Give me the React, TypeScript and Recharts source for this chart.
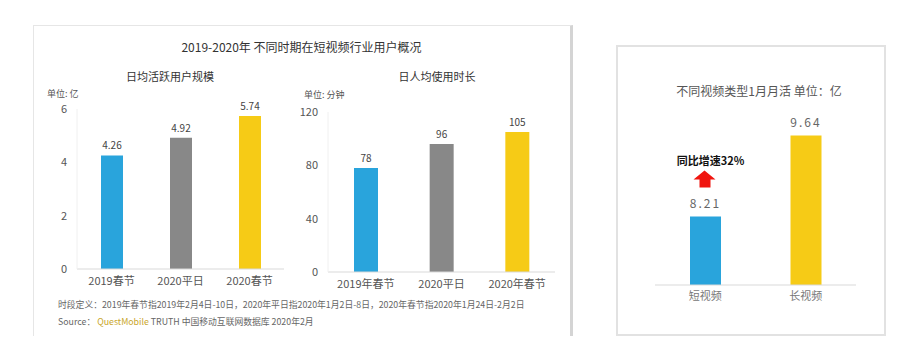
import { BarChart, Bar, XAxis, YAxis, Cell, LabelList } from "recharts"

const FONT = '"Noto Sans CJK SC", "Noto Sans", sans-serif'

const dauCategories = ["2019春节", "2020平日", "2020春节"]
const dauValues = [4.26, 4.92, 5.74]

const timeCategories = ["2019年春节", "2020平日", "2020年春节"]
const timeValues = [78, 96, 105]

const mauCategories = ["短视频", "长视频"]
const mauValues = [8.21, 9.64]

const periodColors = ["#29A4DC", "#888888", "#F6CB16"]
const mauColors = ["#29A4DC", "#F6CB16"]

const dauData = dauCategories.map((name, i) => ({ name, value: dauValues[i] }))
const timeData = timeCategories.map((name, i) => ({ name, value: timeValues[i] }))
const mauData = mauCategories.map((name, i) => ({ name, value: mauValues[i] }))

const tickStyle = { fontSize: 11, fill: "#555", fontFamily: FONT }

// arrow + growth note above the short-video bar
const GrowthNote = (props: any) => {
  const { x, y, width, index } = props
  if (index !== 0) return null
  const cx = x + width / 2
  return (
    <g>
      <text x={cx + 5} y={y - 56} textAnchor="middle" dominantBaseline="central"
        fontSize={11} fontWeight="bold" fill="#111" fontFamily={FONT}>
        同比增速32%
      </text>
      <polygon
        points={`${cx - 1},${y - 46} ${cx - 12},${y - 37} ${cx - 6},${y - 37} ${cx - 6},${y - 29} ${cx + 5},${y - 29} ${cx + 5},${y - 37} ${cx + 10},${y - 37}`}
        fill="#F0150F"
      />
    </g>
  )
}

const abs = (left: number, top: number, extra: any = {}) => ({
  position: "absolute" as const, left, top, ...extra,
})

export default function App() {
  return (
    <div style={{ position: "absolute", left: 0, top: 0, width: 903, height: 356, background: "#fff", fontFamily: FONT, overflow: "hidden" }}>
      {/* left panel frame */}
      <div style={abs(33, 25, { width: 536, height: 310, borderLeft: "1px solid #e6e6e6", borderTop: "1px solid #e6e6e6", borderRight: "3px solid #d4d4d4" })} />
      {/* right panel frame */}
      <div style={abs(616, 45, { width: 266, height: 287, border: "2px solid #e2e2e2" })} />

      <div style={abs(33, 38, { width: 537, textAlign: "center", fontSize: 12, color: "#333" })}>
        2019-2020年 不同时期在短视频行业用户概况
      </div>

      <div style={abs(100, 68, { width: 140, textAlign: "center", fontSize: 11, color: "#333" })}>日均活跃用户规模</div>
      <div style={abs(47, 87, { fontSize: 9, color: "#555" })}>单位: 亿</div>

      <div style={abs(367, 68, { width: 140, textAlign: "center", fontSize: 11, color: "#333" })}>日人均使用时长</div>
      <div style={abs(304, 88, { fontSize: 9, color: "#555" })}>单位: 分钟</div>

      <div style={abs(30, 95)}>
        <BarChart width={270} height={200} data={dauData} margin={{ top: 14, right: 16, bottom: 0, left: 0 }}>
          <XAxis dataKey="name" tickLine={false} height={26} axisLine={{ stroke: "#d9d9d9" }} tick={tickStyle} />
          <YAxis width={47} domain={[0, 6]} ticks={[0, 2, 4, 6]} tickLine={false} tickMargin={4}
            axisLine={{ stroke: "#f0f0f0" }} tick={tickStyle} />
          <Bar dataKey="value" barSize={22} isAnimationActive={false}>
            {dauData.map((d, i) => <Cell key={d.name} fill={periodColors[i]} />)}
            <LabelList dataKey="value" position="top" offset={6} style={{ fontSize: 10, fill: "#444", fontFamily: FONT }} />
          </Bar>
        </BarChart>
      </div>

      <div style={abs(280, 95)}>
        <BarChart width={290} height={205} data={timeData} margin={{ top: 17, right: 15, bottom: 0, left: 0 }}>
          <XAxis dataKey="name" tickLine={false} height={28} axisLine={{ stroke: "#d9d9d9" }} tick={tickStyle} />
          <YAxis width={48} domain={[0, 120]} ticks={[0, 40, 80, 120]} tickLine={false} tickMargin={4}
            axisLine={{ stroke: "#f0f0f0" }} tick={tickStyle} />
          <Bar dataKey="value" barSize={24} isAnimationActive={false}>
            {timeData.map((d, i) => <Cell key={d.name} fill={periodColors[i]} />)}
            <LabelList dataKey="value" position="top" offset={6} style={{ fontSize: 10, fill: "#444", fontFamily: FONT }} />
          </Bar>
        </BarChart>
      </div>

      <div style={abs(58, 298, { fontSize: 8.8, color: "#666", whiteSpace: "nowrap" })}>
        时段定义：2019年春节指2019年2月4日-10日，2020年平日指2020年1月2日-8日，2020年春节指2020年1月24日-2月2日
      </div>
      <div style={abs(58, 315, { fontSize: 8.8, color: "#666", whiteSpace: "nowrap" })}>
        Source： <span style={{ color: "#C9A62C" }}>QuestMobile</span> TRUTH 中国移动互联网数据库 2020年2月
      </div>

      <div style={abs(626, 82, { width: 266, textAlign: "center", fontSize: 12, color: "#555" })}>
        不同视频类型1月月活 单位：亿
      </div>

      <div style={abs(640, 100)}>
        <BarChart width={230} height={215} data={mauData} margin={{ top: 15, right: 14, bottom: 0, left: 15 }}>
          <XAxis dataKey="name" tickLine={false} height={30} tickSize={4} tickMargin={3} axisLine={{ stroke: "#d9d9d9" }}
            tick={{ fontSize: 11, fill: "#777", fontFamily: FONT }} />
          <YAxis hide domain={[7, 10]} allowDataOverflow />
          <Bar dataKey="value" barSize={31} isAnimationActive={false}>
            {mauData.map((d, i) => <Cell key={d.name} fill={mauColors[i]} />)}
            <LabelList dataKey="value" position="top" offset={8}
              formatter={(v: any) => Number(v).toFixed(2)}
              style={{ fontSize: 12, fill: "#666", letterSpacing: 2, fontFamily: FONT }} />
            <LabelList dataKey="value" content={GrowthNote} />
          </Bar>
        </BarChart>
      </div>
    </div>
  )
}
